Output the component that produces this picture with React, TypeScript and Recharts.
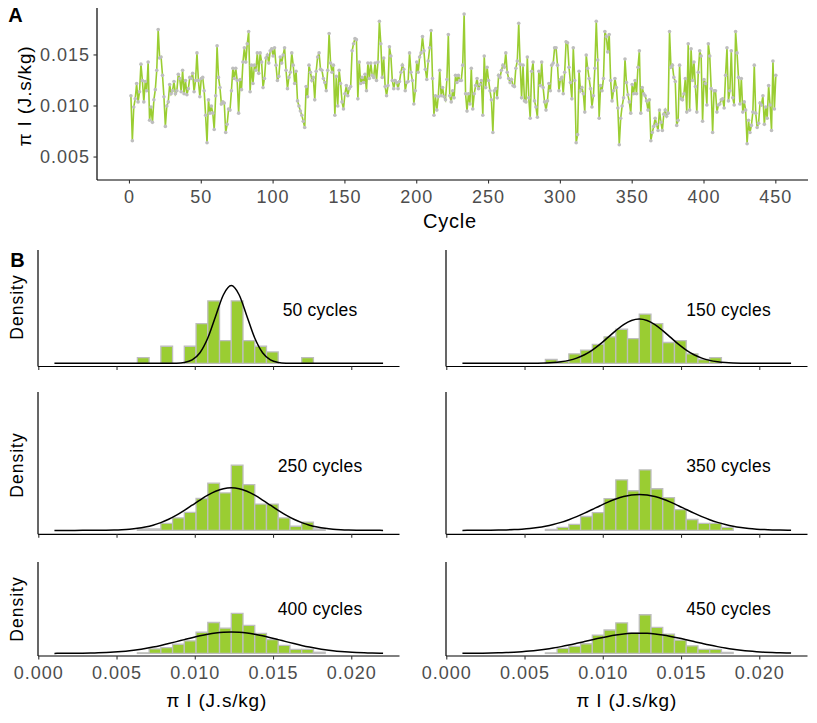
import { LineChart, Line, XAxis, YAxis, ComposedChart, ReferenceArea } from 'recharts'

const FONT = "'Liberation Sans', Arial, Helvetica, sans-serif"
const GREEN = '#9ACD32'
const GREY = '#BEBEBE'
const TICK_TEXT = '#4D4D4D'

// Panel A: pi I per cycle, in units of 1e-4 J.s/kg
const piCycles001to090 = [
  110, 66, 99, 107, 122, 104, 114, 141, 125, 104,
  124, 115, 143, 86, 99, 84, 106, 116, 135, 175,
  147, 148, 130, 109, 80, 100, 104, 121, 112, 115,
  124, 112, 115, 131, 127, 114, 135, 112, 125, 111,
  117, 128, 127, 132, 114, 125, 152, 125, 109, 127,
  128, 115, 91, 64, 106, 93, 100, 93, 77, 110,
  159, 128, 118, 102, 104, 103, 74, 82, 97, 96,
  115, 137, 127, 137, 125, 93, 126, 116, 143, 157,
  143, 161, 173, 114, 140, 122, 140, 135, 152, 132,
]
const piCycles091to185 = [
  152, 143, 118, 127, 147, 150, 142, 154, 156, 149,
  157, 140, 125, 129, 148, 142, 150, 157, 135, 117,
  128, 133, 152, 140, 122, 134, 105, 100, 95, 91,
  85, 79, 119, 109, 140, 133, 125, 128, 106, 134,
  148, 152, 136, 135, 127, 123, 115, 135, 171, 142,
  133, 140, 91, 129, 100, 135, 122, 104, 97, 112,
  120, 110, 117, 119, 154, 161, 166, 165, 107, 143,
  122, 128, 123, 131, 115, 142, 127, 142, 130, 128,
  142, 125, 143, 183, 161, 128, 147, 119, 110, 120,
  158, 149, 125, 117, 125,
]
const piCycles186to279 = [
  123, 117, 124, 133, 140, 136, 115, 123, 124, 152,
  133, 125, 102, 115, 143, 133, 148, 152, 168, 154,
  136, 126, 144, 157, 174, 127, 91, 110, 96, 109,
  135, 110, 118, 109, 106, 126, 170, 110, 104, 115,
  108, 130, 123, 130, 125, 125, 140, 190, 112, 95,
  112, 102, 137, 97, 112, 120, 127, 117, 121, 125,
  91, 149, 118, 138, 125, 115, 106, 74, 115, 117,
  108, 130, 128, 135, 140, 138, 152, 133, 127, 123,
  126, 120, 119, 137, 144, 181, 141, 108, 140, 105,
  104, 148, 108, 88,
]
const piCycles280to375 = [
  134, 143, 105, 99, 89, 134, 120, 143, 118, 104,
  96, 105, 122, 115, 140, 142, 157, 157, 140, 115,
  126, 128, 112, 133, 163, 162, 138, 123, 107, 157,
  125, 64, 72, 134, 115, 118, 112, 94, 150, 137,
  127, 117, 99, 110, 137, 183, 145, 88, 120, 115,
  127, 173, 168, 153, 170, 125, 105, 115, 127, 118,
  98, 62, 88, 100, 108, 146, 123, 111, 104, 93,
  121, 112, 125, 112, 138, 154, 93, 118, 112, 110,
  105, 96, 106, 66, 74, 80, 88, 82, 76, 96,
  84, 76, 92, 96, 90, 93,
]
const piCycles376to450 = [
  173, 138, 140, 128, 124, 81, 86, 140, 107, 106,
  112, 127, 94, 161, 96, 156, 125, 143, 119, 94,
  133, 154, 149, 85, 126, 122, 101, 161, 149, 117,
  74, 115, 115, 94, 101, 102, 106, 107, 98, 130,
  157, 105, 115, 154, 108, 101, 173, 152, 128, 102,
  127, 94, 104, 96, 63, 86, 74, 81, 94, 140,
  93, 79, 83, 103, 101, 110, 82, 99, 88, 120,
  101, 76, 144, 97, 130,
]
const piValues = [
  ...piCycles001to090,
  ...piCycles091to185,
  ...piCycles186to279,
  ...piCycles280to375,
  ...piCycles376to450,
]
const cycleData = piValues.map((v, i) => ({ cycle: i + 1, pi: v }))
const cycleTicks = [0, 50, 100, 150, 200, 250, 300, 350, 400, 450]
const piTicks = [50, 100, 150]

// Panel B: histograms (bin starts in 1e-4 J.s/kg) + fitted density curves
const binStart = [63, 70.5, 78, 85.5, 93, 100.5, 108, 115.5, 123, 130.5, 138, 145.5, 153, 160.5, 168, 175.5]
const BIN_WIDTH = 7.5
const BIN_WIDTH_REAL = 0.00075
const histTicks = [0, 50, 100, 150, 200]

const counts50 = [1, 0, 3, 0, 3, 7, 11, 4, 11, 4, 3, 2, 0, 0, 1, 0]
const counts150 = [2, 1, 5, 7, 10, 14, 18, 13, 26, 21, 11, 12, 5, 2, 3, 0]
const counts250 = [1, 1, 5, 9, 13, 23, 34, 27, 47, 33, 19, 19, 9, 3, 6, 1]
const counts350 = [1, 3, 6, 14, 18, 32, 51, 40, 61, 42, 33, 21, 11, 7, 7, 3]
const counts400 = [1, 8, 10, 16, 22, 37, 54, 44, 70, 49, 35, 24, 14, 7, 7, 2]
const counts450 = [1, 10, 14, 19, 36, 46, 60, 40, 76, 51, 38, 26, 15, 8, 8, 2]

const curveX = [
  10, 13, 18, 23, 28, 33, 38, 43, 48, 53, 58, 63, 68, 73, 78, 83, 88, 93, 98, 103, 108, 113,
  118, 123, 128, 133, 138, 143, 148, 153, 158, 163, 168, 173, 178, 183, 188, 193, 198, 203,
  208, 213, 218, 220,
]
const curve50 = [
  0, 0, 0, 0, 0, 0, 0, 0, 0, 0, 0, 0, 0, 0, 0, 0.1, 0.8, 4.1, 16, 49.4, 118.5, 221,
  322, 365, 322, 221, 118.5, 49.4, 16, 4.1, 0.8, 0.1, 0, 0, 0, 0, 0, 0, 0, 0,
  0, 0, 0, 0,
]
const curve150 = [
  0, 0, 0, 0, 0, 0, 0, 0.04, 0.11, 0.29, 0.72, 1.66, 3.6, 7.3, 13.7, 24.3, 40.2, 62.2, 89.9, 121.6, 153.8, 181.9,
  201.1, 208, 201.1, 181.9, 153.8, 121.6, 89.9, 62.2, 40.2, 24.3, 13.7, 7.3, 3.6, 1.66, 0.72, 0.29, 0.11, 0.04,
  0, 0, 0, 0,
]
const curve250 = [
  0, 0.01, 0.02, 0.04, 0.08, 0.18, 0.38, 0.76, 1.45, 2.7, 4.7, 7.9, 12.9, 20, 29.8, 42.7, 58.4, 76.8, 96.7, 116.8, 135.3, 150.3,
  160.1, 163.5, 160.1, 150.3, 135.3, 116.8, 96.7, 76.8, 58.4, 42.7, 29.8, 20, 12.9, 7.9, 4.7, 2.7, 1.45, 0.76,
  0.38, 0.18, 0.08, 0.06,
]
const curve350 = [
  0.07, 0.1, 0.19, 0.35, 0.62, 1.08, 1.83, 3, 4.8, 7.3, 11, 16, 22.6, 30.9, 41.1, 52.9, 66.3, 80.5, 94.9, 108.6, 120.6, 130,
  135.9, 138, 135.9, 130, 120.6, 108.6, 94.9, 80.5, 66.3, 52.9, 41.1, 30.9, 22.6, 16, 11, 7.3, 4.8, 3,
  1.83, 1.08, 0.62, 0.49,
]
const curve400 = [
  0.26, 0.36, 0.61, 1, 1.6, 2.5, 3.8, 5.7, 8.2, 11.7, 16.2, 21.8, 28.8, 37.1, 46.7, 57.3, 68.7, 80.3, 91.7, 102.3, 111.3, 118.2,
  122.5, 124, 122.5, 118.2, 111.3, 102.3, 91.7, 80.3, 68.7, 57.3, 46.7, 37.1, 28.8, 21.8, 16.2, 11.7, 8.2, 5.7,
  3.8, 2.5, 1.6, 1.3,
]
const curve450 = [
  0.44, 0.59, 0.95, 1.5, 2.3, 3.4, 5, 7.2, 10.1, 13.8, 18.6, 24.4, 31.4, 39.5, 48.6, 58.6, 69, 79.6, 89.8, 99, 106.9, 112.9,
  116.7, 118, 116.7, 112.9, 106.9, 99, 89.8, 79.6, 69, 58.6, 48.6, 39.5, 31.4, 24.4, 18.6, 13.8, 10.1, 7.2,
  5, 3.4, 2.3, 1.9,
]

const fmt = (v: number) => (v / 10000).toFixed(3)
const tickStyle = { fill: TICK_TEXT, fontSize: 18, style: { letterSpacing: '1px' } }

function Txt({ x, y, size, rot = 0, bold = false, color = '#000', spacing = 0, children }: any) {
  return (
    <div
      style={{
        position: 'absolute',
        left: x,
        top: y,
        transform: `translate(-50%, -50%) rotate(${rot}deg)`,
        fontSize: size,
        fontWeight: bold ? 700 : 400,
        color,
        letterSpacing: spacing,
        whiteSpace: 'nowrap',
        lineHeight: 1,
      }}
    >
      {children}
    </div>
  )
}

const PLOT_W = 361.5
const SIDE = 30

function Hist({ counts, n, curve, left, top, plotH, showLabels }: any) {
  const data = curveX.map((x, i) => ({ x, d: curve[i] }))
  const axisH = showLabels ? 30 : 6
  return (
    <div style={{ position: 'absolute', left: left - SIDE, top: top - 4 }}>
      <ComposedChart
        width={PLOT_W + 2 * SIDE}
        height={plotH + 4 + axisH}
        data={data}
        margin={{ top: 4, right: SIDE, bottom: 0, left: 0 }}
      >
        <XAxis
          dataKey="x"
          type="number"
          domain={[-0.5, 230.5]}
          ticks={histTicks}
          tickFormatter={showLabels ? fmt : () => ''}
          height={axisH}
          tickSize={3.5}
          tickMargin={6.5}
          tick={tickStyle}
          axisLine={{ stroke: '#000', strokeWidth: 1.2 }}
          tickLine={{ stroke: '#333', strokeWidth: 1.1 }}
        />
        <YAxis
          type="number"
          domain={[-15, 532]}
          width={SIDE}
          tick={false}
          tickLine={false}
          axisLine={{ stroke: '#000', strokeWidth: 1.2 }}
        />
        {binStart.map((s, i) =>
          counts[i] > 0 ? (
            <ReferenceArea
              key={s}
              x1={s}
              x2={s + BIN_WIDTH}
              y1={0}
              y2={counts[i] / (n * BIN_WIDTH_REAL)}
              fill={GREEN}
              fillOpacity={1}
              stroke={GREY}
              strokeOpacity={1}
              strokeWidth={1.3}
            />
          ) : null
        )}
        <Line
          dataKey="d"
          type="monotone"
          stroke="#000"
          strokeWidth={1.5}
          dot={false}
          isAnimationActive={false}
        />
      </ComposedChart>
    </div>
  )
}

const LEFT_COL = 37.5
const RIGHT_COL = 446
const ROWS = [
  { top: 250, h: 116.5 },
  { top: 391.7, h: 142.3 },
  { top: 561.7, h: 94 },
]

export default function App() {
  return (
    <div
      style={{
        position: 'absolute',
        left: 0,
        top: 0,
        width: 817,
        height: 723,
        overflow: 'hidden',
        background: '#fff',
        fontFamily: FONT,
      }}
    >
      <div style={{ position: 'absolute', left: 0, top: 0 }}>
        <LineChart width={817} height={240} data={cycleData} margin={{ top: 8, right: 9, bottom: 0, left: 0 }}>
          <XAxis
            dataKey="cycle"
            type="number"
            domain={[-22.6, 472.4]}
            ticks={cycleTicks}
            height={60}
            tickSize={3.5}
            tickMargin={6.5}
            tick={tickStyle}
            axisLine={{ stroke: '#000', strokeWidth: 1.2 }}
            tickLine={{ stroke: '#333', strokeWidth: 1.1 }}
          />
          <YAxis
            type="number"
            domain={[27.5, 196]}
            ticks={piTicks}
            tickFormatter={fmt}
            width={97}
            tickSize={3.5}
            tickMargin={3.5}
            tick={tickStyle}
            axisLine={{ stroke: '#000', strokeWidth: 1.2 }}
            tickLine={{ stroke: '#333', strokeWidth: 1.1 }}
          />
          <Line
            type="linear"
            dataKey="pi"
            stroke={GREEN}
            strokeWidth={1.6}
            dot={{ r: 1.8, fill: GREY, stroke: GREY, strokeWidth: 0 }}
            isAnimationActive={false}
          />
        </LineChart>
      </div>

      <Hist counts={counts50} n={50} curve={curve50} left={LEFT_COL} top={ROWS[0].top} plotH={ROWS[0].h} />
      <Hist counts={counts150} n={150} curve={curve150} left={RIGHT_COL} top={ROWS[0].top} plotH={ROWS[0].h} />
      <Hist counts={counts250} n={250} curve={curve250} left={LEFT_COL} top={ROWS[1].top} plotH={ROWS[1].h} />
      <Hist counts={counts350} n={350} curve={curve350} left={RIGHT_COL} top={ROWS[1].top} plotH={ROWS[1].h} />
      <Hist counts={counts400} n={400} curve={curve400} left={LEFT_COL} top={ROWS[2].top} plotH={ROWS[2].h} showLabels />
      <Hist counts={counts450} n={450} curve={curve450} left={RIGHT_COL} top={ROWS[2].top} plotH={ROWS[2].h} showLabels />

      <Txt x={15.5} y={15} size={20} bold>A</Txt>
      <Txt x={17.5} y={259.5} size={20} bold>B</Txt>
      <Txt x={24} y={96} size={19} rot={-90} spacing={0.8}>π I (J.s/kg)</Txt>
      <Txt x={450} y={221} size={20} spacing={0.8}>Cycle</Txt>

      <Txt x={17.5} y={306.7} size={17.5} rot={-90} spacing={1}>Density</Txt>
      <Txt x={17.5} y={465} size={17.5} rot={-90} spacing={1}>Density</Txt>
      <Txt x={17.5} y={609} size={17.5} rot={-90} spacing={1}>Density</Txt>

      <Txt x={320} y={310.7} size={17.5} spacing={0.2}>50 cycles</Txt>
      <Txt x={728.5} y={310.7} size={17.5} spacing={0.2}>150 cycles</Txt>
      <Txt x={320} y={466.7} size={17.5} spacing={0.2}>250 cycles</Txt>
      <Txt x={728.5} y={466.7} size={17.5} spacing={0.2}>350 cycles</Txt>
      <Txt x={320} y={610} size={17.5} spacing={0.2}>400 cycles</Txt>
      <Txt x={728.5} y={610} size={17.5} spacing={0.2}>450 cycles</Txt>

      <Txt x={216.7} y={699.5} size={19} spacing={0.8}>π I (J.s/kg)</Txt>
      <Txt x={626.7} y={699.5} size={19} spacing={0.8}>π I (J.s/kg)</Txt>
    </div>
  )
}
